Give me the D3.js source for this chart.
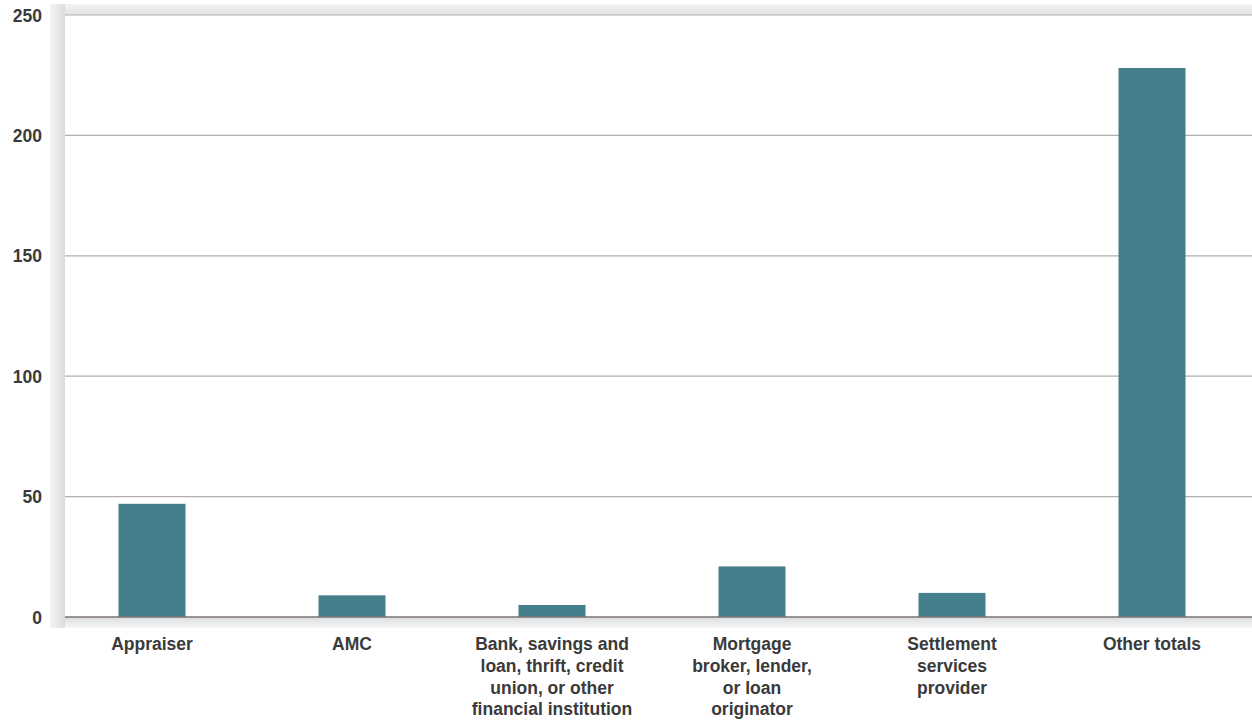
<!DOCTYPE html>
<html>
<head>
<meta charset="utf-8">
<script src="https://cdn.jsdelivr.net/npm/d3@7/dist/d3.min.js"></script>
<style>
  html, body { margin: 0; padding: 0; background: #ffffff; }
  svg { display: block; }
  text { font-family: "Liberation Sans", Arial, sans-serif; font-weight: bold; fill: #3a3a3a; }
</style>
</head>
<body>
<svg id="chart" width="1252" height="723"></svg>
<script>
// Categories, their wrapped axis labels, and the counts per category
const categories = [
  "Appraiser",
  "AMC",
  "Bank, savings and loan, thrift, credit union, or other financial institution",
  "Mortgage broker, lender, or loan originator",
  "Settlement services provider",
  "Other totals"
];
const labelLines = [
  ["Appraiser"],
  ["AMC"],
  ["Bank, savings and", "loan, thrift, credit", "union, or other", "financial institution"],
  ["Mortgage", "broker, lender,", "or loan", "originator"],
  ["Settlement", "services", "provider"],
  ["Other totals"]
];
const counts = [47, 9, 5, 21, 10, 228];
const yTicks = [0, 50, 100, 150, 200, 250];

const svg = d3.select("#chart");
const W = 1252;
const plot = { left: 65, right: 1252, top: 15, bottom: 617 };

const x = d3.scaleBand()
  .domain(categories)
  .range([52, 1252])
  .paddingInner(0.665)
  .paddingOuter(0.3325);

const y = d3.scaleLinear()
  .domain([0, 250])
  .range([plot.bottom, plot.top]);

// Soft shadow framing the plot panel
const defs = svg.append("defs");
const gL = defs.append("linearGradient").attr("id", "shL").attr("x1", 0).attr("x2", 1).attr("y1", 0).attr("y2", 0);
gL.append("stop").attr("offset", "0%").attr("stop-color", "#f4f4f4");
gL.append("stop").attr("offset", "100%").attr("stop-color", "#dadde0");
const gT = defs.append("linearGradient").attr("id", "shT").attr("x1", 0).attr("x2", 0).attr("y1", 0).attr("y2", 1);
gT.append("stop").attr("offset", "0%").attr("stop-color", "#f4f4f4");
gT.append("stop").attr("offset", "100%").attr("stop-color", "#dfe1e3");
const gB = defs.append("linearGradient").attr("id", "shB").attr("x1", 0).attr("x2", 0).attr("y1", 0).attr("y2", 1);
gB.append("stop").attr("offset", "0%").attr("stop-color", "#dadde0");
gB.append("stop").attr("offset", "100%").attr("stop-color", "#f7f7f7");

svg.append("rect").attr("x", 50).attr("y", 4).attr("width", plot.left - 50).attr("height", plot.bottom + 11 - 4).attr("fill", "url(#shL)");
svg.append("rect").attr("x", plot.left).attr("y", 4).attr("width", W - plot.left).attr("height", plot.top - 4).attr("fill", "url(#shT)");
svg.append("rect").attr("x", plot.left).attr("y", plot.bottom).attr("width", W - plot.left).attr("height", 11).attr("fill", "url(#shB)");
svg.append("rect").attr("x", plot.left).attr("y", plot.top).attr("width", W - plot.left).attr("height", plot.bottom - plot.top).attr("fill", "#ffffff");

// Horizontal gridlines
svg.append("g")
  .selectAll("line")
  .data(yTicks.filter(d => d > 0))
  .join("line")
  .attr("x1", plot.left)
  .attr("x2", W)
  .attr("y1", d => y(d))
  .attr("y2", d => y(d))
  .attr("stroke", "#b6aeae")
  .attr("stroke-width", 1.2);

// Bars
svg.append("g")
  .selectAll("rect")
  .data(categories)
  .join("rect")
  .attr("x", d => x(d))
  .attr("width", x.bandwidth())
  .attr("y", (d, i) => y(counts[i]))
  .attr("height", (d, i) => y(0) - y(counts[i]))
  .attr("fill", "#457f8c");

// Baseline
svg.append("line")
  .attr("x1", plot.left)
  .attr("x2", W)
  .attr("y1", y(0))
  .attr("y2", y(0))
  .attr("stroke", "#7b7372")
  .attr("stroke-width", 1.4);

// Y axis labels
const yAxis = d3.axisLeft(y).tickValues(yTicks).tickSize(0).tickPadding(0);
const yg = svg.append("g").attr("transform", "translate(42,0)").call(yAxis);
yg.select(".domain").remove();
yg.selectAll("text")
  .attr("font-size", 17.5)
  .attr("font-family", "Liberation Sans, Arial, sans-serif")
  .attr("font-weight", "bold")
  .attr("fill", "#3a3a3a")
  .attr("dy", "0.35em");

// Category labels (wrapped)
const xg = svg.append("g");
categories.forEach((c, i) => {
  const cx = x(c) + x.bandwidth() / 2;
  const t = xg.append("text")
    .attr("x", cx)
    .attr("y", 650)
    .attr("text-anchor", "middle")
    .attr("font-size", 17.5);
  labelLines[i].forEach((line, j) => {
    t.append("tspan")
      .attr("x", cx)
      .attr("y", 650 + j * 21.8)
      .text(line);
  });
});
</script>
</body>
</html>
